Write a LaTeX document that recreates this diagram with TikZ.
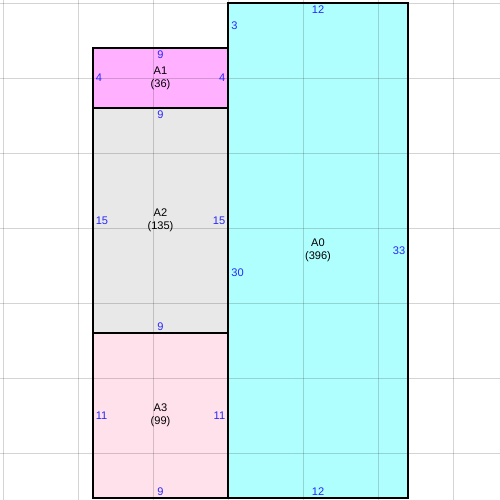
\documentclass[tikz,border=0pt]{standalone}
\usepackage{fontspec}
\setmainfont{Liberation Sans}
\definecolor{dimblue}{RGB}{40,40,250}
\definecolor{areacyan}{RGB}{176,255,255}
\definecolor{areamagenta}{RGB}{255,176,255}
\definecolor{areagray}{RGB}{232,232,232}
\definecolor{areapink}{RGB}{255,225,235}
\begin{document}
\begin{tikzpicture}[
                x = 0.3cm, y = -0.3cm,
                font = \fontsize{6.3}{7.4}\selectfont,
                area/.style = {draw, thick, line width = 0.6pt, inner sep = 0mm, align = center},
                dim/.style = {text = dimblue, inner sep = 0.6mm},
                gridline/.style = {draw = black, draw opacity = 0.17, line width = 0.5pt},
            ]
            \useasboundingbox (-0.2,-0.2) rectangle (33.133,33.133);

            \node (A0) [area, fill=areacyan, minimum width=3.6cm, minimum height=9.9cm] at (21,16.5){A0\\(396)};
            \node (A1) [area, fill=areamagenta, minimum width=2.7cm, minimum height=1.2cm] at (10.5,5){A1\\(36)};
            \node (A2) [area, fill=areagray, minimum width=2.7cm, minimum height=4.5cm] at (10.5,14.5){A2\\(135)};
            \node (A3) [area, fill=areapink, minimum width=2.7cm, minimum height=3.3cm] at (10.5,27.5){A3\\(99)};

            \foreach \g in {0,5,...,30}{
                \path[gridline] (\g,-0.2) -- (\g,33.133);
                \path[gridline] (-0.2,\g) -- (33.133,\g);
            }

            % side lengths
            \node (a0t) [dim, anchor=north] at (A0.north){12};
            \node (a0b) [dim, anchor=south] at (A0.south){12};
            \node (a0r) [dim, anchor=east] at (A0.east){33};
            \node (a0l) [dim, anchor=west] at (15,1.5){3};
            \node (a0m) [dim, anchor=west] at (15,18){30};

            \node (a1t) [dim, anchor=north] at (A1.north){9};
            \node (a1l) [dim, anchor=west] at (A1.west){4};
            \node (a1r) [dim, anchor=east] at (A1.east){4};

            \node (a2t) [dim, anchor=north] at (A2.north){9};
            \node (a2b) [dim, anchor=south] at (A2.south){9};
            \node (a2l) [dim, anchor=west] at (A2.west){15};
            \node (a2r) [dim, anchor=east] at (A2.east){15};

            \node (a3b) [dim, anchor=south] at (A3.south){9};
            \node (a3l) [dim, anchor=west] at (A3.west){11};
            \node (a3r) [dim, anchor=east] at (A3.east){11};
        \end{tikzpicture}
\end{document}
